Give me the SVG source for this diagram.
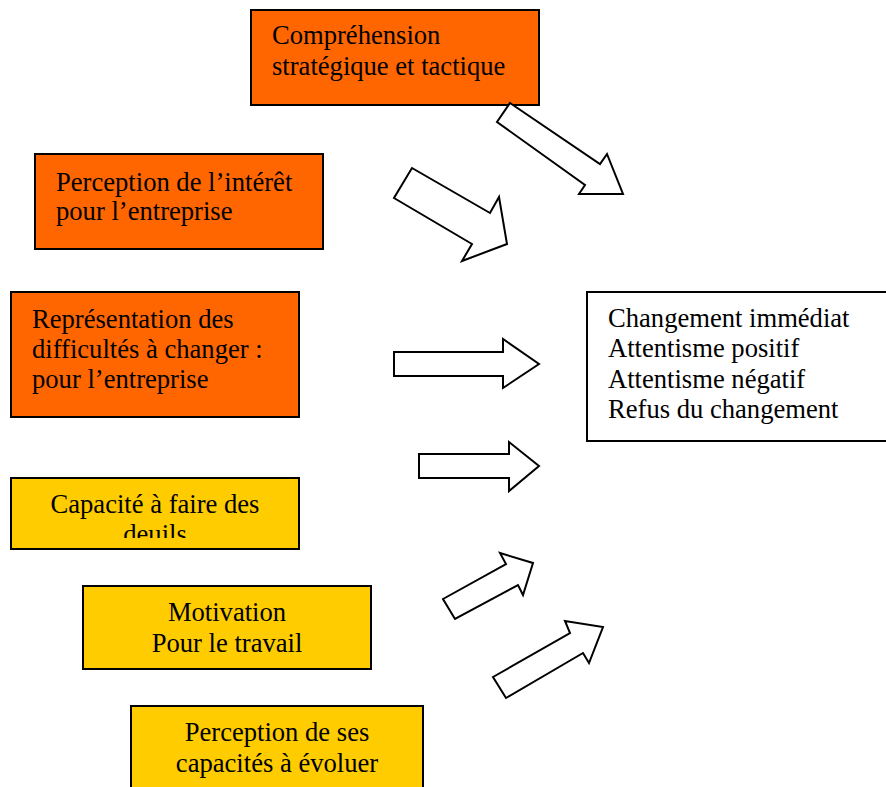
<svg xmlns="http://www.w3.org/2000/svg" width="886" height="787" viewBox="0 0 886 787">
<style>
.box{stroke:#000;stroke-width:2}
.or{fill:#FF6600}
.ye{fill:#FFCC00}
.wh{fill:#fff}
text{font-family:"Liberation Serif","Times New Roman",serif;font-size:26.6px;fill:#000}
.c{text-anchor:middle}
.arr{fill:#fff;stroke:#000;stroke-width:2;stroke-linejoin:miter}
</style>
<defs>
<clipPath id="clip4"><rect x="12" y="479" width="286" height="59"/></clipPath>
</defs>
<rect width="886" height="787" fill="#fff"/>
<g id="n1"><rect class="box or" x="251" y="10" width="288" height="95"/>
<text x="272" y="44">Compréhension</text><text x="272" y="75">stratégique et tactique</text></g>
<g id="n2"><rect class="box or" x="35" y="154" width="288" height="95"/>
<text x="56" y="191">Perception de l’intérêt</text><text x="56" y="220">pour l’entreprise</text></g>
<g id="n3"><rect class="box or" x="11" y="292" width="288" height="125"/>
<text x="32" y="328">Représentation des</text><text x="32" y="358">difficultés à changer :</text><text x="32" y="388">pour l’entreprise</text></g>
<g id="n4"><rect class="box ye" x="11" y="478" width="288" height="71"/>
<g clip-path="url(#clip4)"><text class="c" x="155" y="513">Capacité à faire des</text><text class="c" x="155" y="543">deuils</text></g></g>
<g id="n5"><rect class="box ye" x="83" y="586" width="288" height="83"/>
<text class="c" x="227" y="621">Motivation</text><text class="c" x="227" y="652">Pour le travail</text></g>
<g id="n6"><rect class="box ye" x="131" y="706" width="292" height="100"/>
<text class="c" x="277" y="741">Perception de ses</text><text class="c" x="277" y="772">capacités à évoluer</text></g>
<g id="n7"><rect class="box wh" x="587" y="292" width="310" height="149"/>
<text x="608" y="327">Changement immédiat</text><text x="608" y="357">Attentisme positif</text><text x="608" y="388">Attentisme négatif</text><text x="608" y="418">Refus du changement</text></g>
<g id="connectors">
<polygon class="arr" points="510,103 600,164 607,154 623,194 579,194 585,185 497,122"/>
<polygon class="arr" points="412,168 490,213 499,197 507,244 462,261 472,244 394,198"/>
<polygon class="arr" points="394,352 503,352 503,339 539,364 503,388 503,376 394,376"/>
<polygon class="arr" points="419,454 509,454 509,442 539,466 509,491 509,478 419,478"/>
<polygon class="arr" points="443,599 506,564 500,553 533,563 523,595 518,585 455,619"/>
<polygon class="arr" points="493,677 570,633 565,621 603,627 589,663 583,653 506,698"/>
</g>
</svg>
